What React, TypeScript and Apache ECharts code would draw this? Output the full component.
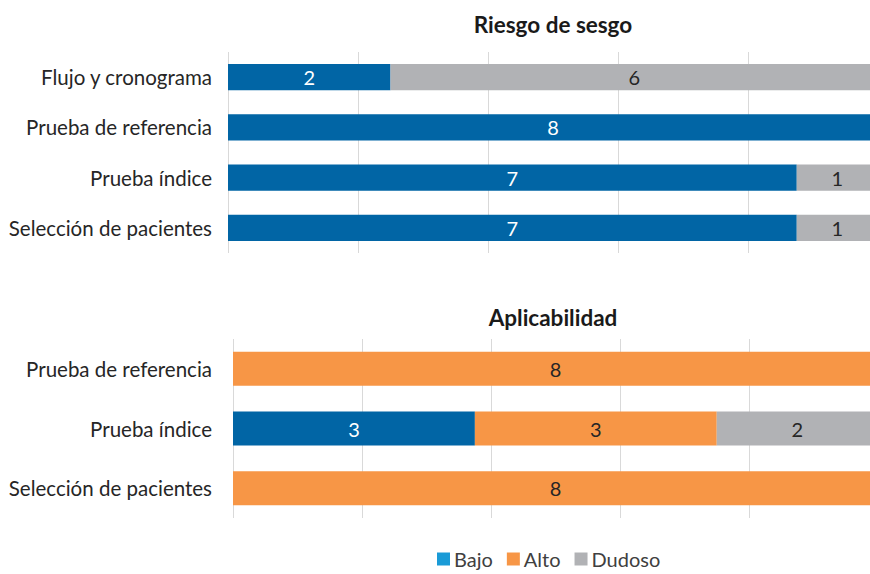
import React, { useEffect, useRef } from "react";
import * as echarts from "echarts";

const riskCategories = ["Selección de pacientes", "Prueba índice", "Prueba de referencia", "Flujo y cronograma"];
const riskBajo = [7, 7, 8, 2];
const riskAlto = [0, 0, 0, 0];
const riskDudoso = [1, 1, 0, 6];

const applCategories = ["Selección de pacientes", "Prueba índice", "Prueba de referencia"];
const applBajo = [0, 3, 0];
const applAlto = [8, 3, 8];
const applDudoso = [0, 2, 0];

const seriesNames = ["Bajo", "Alto", "Dudoso"];
const barColors = ["#0165a5", "#f79646", "#b1b2b5"];
const legendColors = ["#1a9bd7", "#f79646", "#b1b2b5"];
const labelColors = ["#ffffff", "#262626", "#262626"];

const FONT = "Lato";

export default function App() {
  const ref = useRef<HTMLDivElement>(null);
  useEffect(() => {
    if (!ref.current) return;
    const chart = echarts.init(ref.current, undefined, { renderer: "svg" });
    const mk = (name: string, idx: number, data: number[], grid: number, barWidth: string) => ({
      name,
      type: "bar",
      stack: "s" + grid,
      xAxisIndex: grid,
      yAxisIndex: grid,
      data,
      barWidth,
      itemStyle: { color: barColors[idx] },
      label: {
        show: true,
        position: "inside",
        color: labelColors[idx],
        fontSize: 20,
        fontFamily: FONT,
        formatter: (p: any) => (p.value ? String(p.value) : ""),
      },
    });
    const valueAxis = (gridIndex: number) => ({
      type: "value",
      gridIndex,
      min: 0,
      max: 8,
      interval: 1.6,
      axisLabel: { show: false },
      axisLine: { show: false },
      axisTick: { show: false },
      splitLine: { show: true, lineStyle: { color: "#d9d9d9", width: 1 } },
    });
    const catAxis = (gridIndex: number, data: string[], margin: number) => ({
      type: "category",
      gridIndex,
      data,
      axisLine: { show: false },
      axisTick: { show: false },
      axisLabel: { color: "#262626", fontSize: 20.5, fontFamily: FONT, margin },
    });
    chart.setOption({
      animation: false,
      textStyle: { fontFamily: FONT },
      title: [
        {
          text: "Riesgo de sesgo",
          left: 548,
          top: 8,
          textAlign: "center",
          textStyle: { fontSize: 22.5, fontWeight: "bold", color: "#1a1a1a", fontFamily: FONT },
        },
        {
          text: "Aplicabilidad",
          left: 548,
          top: 301,
          textAlign: "center",
          textStyle: { fontSize: 22.5, fontWeight: "bold", color: "#1a1a1a", fontFamily: FONT },
        },
      ],
      legend: {
        left: 432,
        top: 544,
        icon: "rect",
        itemWidth: 13,
        itemHeight: 13,
        itemGap: 14,
        textStyle: { fontSize: 20, color: "#404040", fontFamily: FONT, padding: [0, 0, 0, -1] },
        data: seriesNames.map((n, i) => ({ name: n, itemStyle: { color: legendColors[i] } })),
      },
      grid: [
        { left: 228, right: 2, top: 52, height: 201 },
        { left: 233, right: 2, top: 339, height: 179 },
      ],
      xAxis: [valueAxis(0), valueAxis(1)],
      yAxis: [catAxis(0, riskCategories, 16), catAxis(1, applCategories, 21)],
      series: [
        mk(seriesNames[0], 0, riskBajo, 0, "52%"),
        mk(seriesNames[1], 1, riskAlto, 0, "52%"),
        mk(seriesNames[2], 2, riskDudoso, 0, "52%"),
        mk(seriesNames[0], 0, applBajo, 1, "57%"),
        mk(seriesNames[1], 1, applAlto, 1, "57%"),
        mk(seriesNames[2], 2, applDudoso, 1, "57%"),
      ],
    });
    return () => chart.dispose();
  }, []);
  return (
    <div style={{ position: "fixed", left: 0, top: 0, width: 870, height: 574, overflow: "hidden", background: "#fff" }}>
      <div ref={ref} style={{ width: 880, height: 574 }} />
    </div>
  );
}
